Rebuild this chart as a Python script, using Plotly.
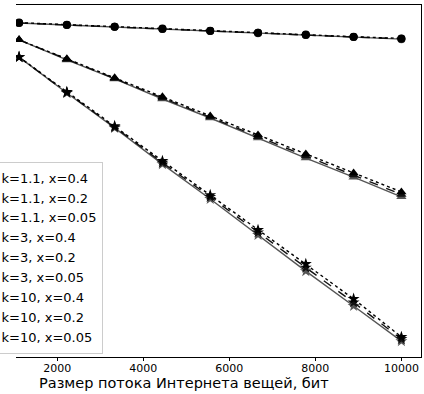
import plotly.graph_objects as go

# Data (y is in relative units, no y-axis visible)
x_vals = [1111.1, 2222.2, 3333.3, 4444.4, 5555.6, 6666.7, 7777.8, 8888.9, 10000.0]

k_labels = ["k=1.1", "k=3", "k=10"]
x_labels = ["x=0.4", "x=0.2", "x=0.05"]

y_k11_x04 = [0.949, 0.943, 0.938, 0.932, 0.926, 0.920, 0.915, 0.909, 0.903]
y_k11_x02 = [0.949, 0.943, 0.938, 0.932, 0.926, 0.921, 0.915, 0.909, 0.904]
y_k11_x005 = [0.950, 0.944, 0.938, 0.933, 0.927, 0.921, 0.916, 0.910, 0.905]

y_k3_x04 = [0.901, 0.844, 0.790, 0.733, 0.679, 0.622, 0.565, 0.511, 0.455]
y_k3_x02 = [0.901, 0.845, 0.791, 0.736, 0.682, 0.626, 0.571, 0.517, 0.462]
y_k3_x005 = [0.901, 0.847, 0.793, 0.739, 0.685, 0.631, 0.577, 0.523, 0.469]

y_k10_x04 = [0.852, 0.750, 0.651, 0.548, 0.449, 0.347, 0.244, 0.145, 0.045]
y_k10_x02 = [0.852, 0.751, 0.653, 0.552, 0.455, 0.354, 0.254, 0.155, 0.051]
y_k10_x005 = [0.852, 0.753, 0.656, 0.557, 0.460, 0.361, 0.264, 0.165, 0.057]

x_tick_vals = [2000, 4000, 6000, 8000, 10000]
x_tick_text = ["2000", "4000", "6000", "8000", "10000"]
x_title = "Размер потока Интернета вещей, бит"

series = [
    (k_labels[0], x_labels[0], y_k11_x04),
    (k_labels[0], x_labels[1], y_k11_x02),
    (k_labels[0], x_labels[2], y_k11_x005),
    (k_labels[1], x_labels[0], y_k3_x04),
    (k_labels[1], x_labels[1], y_k3_x02),
    (k_labels[1], x_labels[2], y_k3_x005),
    (k_labels[2], x_labels[0], y_k10_x04),
    (k_labels[2], x_labels[1], y_k10_x02),
    (k_labels[2], x_labels[2], y_k10_x005),
]

symbols = {"k=1.1": "circle", "k=3": "triangle-up", "k=10": "star"}
sizes = {"k=1.1": 8, "k=3": 9, "k=10": 9}
styles = {
    "x=0.4": dict(color="#555555", dash="solid"),
    "x=0.2": dict(color="#111111", dash="dash"),
    "x=0.05": dict(color="#000000", dash="dot"),
}

fig = go.Figure()
for k, xl, ys in series:
    st = styles[xl]
    fig.add_trace(go.Scatter(
        x=x_vals, y=ys, mode="lines+markers",
        name=f"{k}, {xl}",
        line=dict(color=st["color"], dash=st["dash"], width=1.4),
        marker=dict(symbol=symbols[k], size=sizes[k], color=st["color"]),
    ))

fig.update_layout(
    width=424, height=394,
    margin=dict(l=16, r=3, t=5, b=37, autoexpand=False),
    paper_bgcolor="white", plot_bgcolor="white",
    font=dict(family="DejaVu Sans", color="black"),
    showlegend=True,
    legend=dict(
        x=0.2136, xanchor="right", y=0.555, yanchor="top",
        bgcolor="rgba(255,255,255,0.8)", bordercolor="#cccccc", borderwidth=1,
        font=dict(size=13, family="DejaVu Sans", color="black"),
        tracegroupgap=0,
    ),
    xaxis=dict(
        range=[1040, 10456], tickvals=x_tick_vals, ticktext=x_tick_text,
        tickfont=dict(size=11, family="DejaVu Sans"),
        showline=True, linecolor="black", linewidth=1, mirror=True,
        ticks="outside", ticklen=3, tickcolor="black", ticklabelstandoff=-2,
        showgrid=False, zeroline=False,
    ),
    yaxis=dict(
        range=[0, 1], side="right", showline=True, linecolor="black",
        linewidth=1, showticklabels=False, ticks="", showgrid=False,
        zeroline=False,
    ),
    annotations=[dict(
        text=x_title, xref="paper", yref="paper", x=(184 - 16) / 405,
        y=-(383 - 357) / 352, xanchor="center", yanchor="middle",
        showarrow=False, font=dict(size=14.5, family="DejaVu Sans", color="black"),
    )],
)

fig.write_html("out.html")
